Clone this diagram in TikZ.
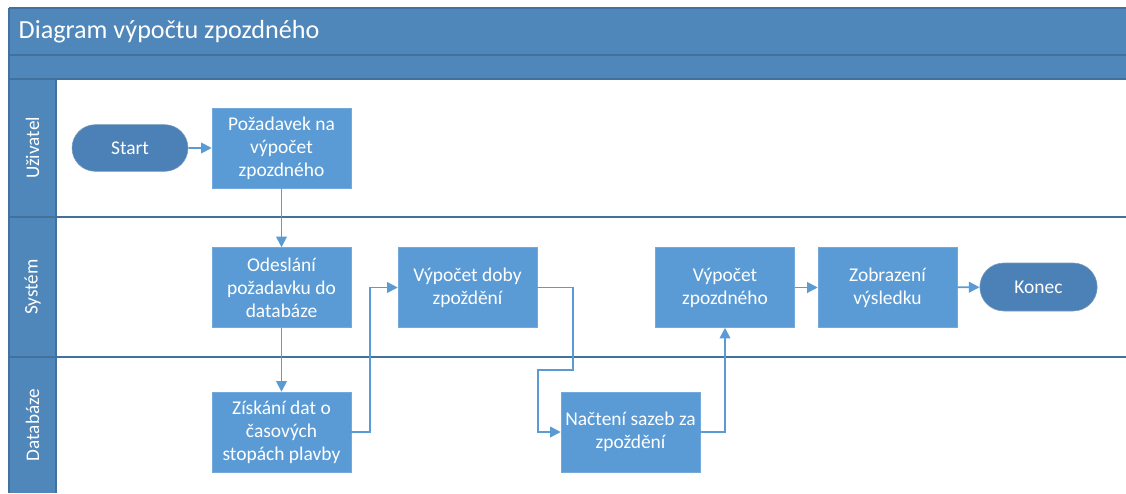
\documentclass[tikz,border=0pt]{standalone}
\usepackage{fontspec}
\setmainfont{Carlito}
\usetikzlibrary{
    arrows.meta,
    shapes.misc,
    positioning
}
\definecolor{boxblue}{HTML}{5B9BD5}
\definecolor{laneblue}{HTML}{4F87BA}
\definecolor{termblue}{HTML}{4C81B8}
\definecolor{lineblue}{HTML}{41719C}

\tikzset{
    procbox/.style={draw=boxblue!85!white, fill=boxblue, text=white, inner sep=0pt,
        minimum width=104.25pt, minimum height=60pt, align=center,
        font=\fontsize{14.6}{17.3}\selectfont},
    termbox/.style={rounded rectangle, draw=lineblue!70!white, fill=termblue, text=white,
        inner sep=0pt, minimum width=87pt, minimum height=35pt,
        font=\fontsize{14.6}{17.3}\selectfont},
    flow/.style={draw=boxblue, line width=1.4pt, -{Triangle[length=8pt,width=8pt]}},
    lanesep/.style={draw=lineblue, line width=1.3pt},
    lanetitle/.style={text=white, rotate=90, font=\fontsize{14.4}{17}\selectfont}
}

\begin{document}
\begin{tikzpicture}[x=0.75pt, y=-0.75pt]
    \useasboundingbox (0,0) rectangle (1126,493);

    % header bars and lane column
    \fill[laneblue] (9,8) rectangle (1126,79);
    \fill[laneblue] (9,79) rectangle (56,493);
    \draw[lineblue, line width=0.8pt] (9,8) -- (1126,8);
    \draw[lineblue, line width=0.8pt] (9,8) -- (9,493);
    \draw[lineblue, line width=0.8pt] (9,55) -- (1126,55);
    \draw[lineblue, line width=0.8pt] (9,79) -- (1126,79);
    \draw[lineblue, line width=0.8pt] (56,79) -- (56,493);
    \draw[lanesep] (9,217) -- (1126,217);
    \draw[lanesep] (9,357) -- (1126,357);

    \node[text=white, anchor=west, font=\fontsize{19.6}{23}\selectfont] (title) at (14,32) {Diagram výpočtu zpozdného};

    \node[lanetitle] (uzivatel) at (32.5,148) {Uživatel};
    \node[lanetitle] (system) at (32.5,287) {Systém};
    \node[lanetitle] (databaze) at (32.5,425) {Databáze};

    % steps
    \node[termbox] (start) at (130,148) {Start};
    \node[procbox] (pozadavek) at (281.5,148) {Požadavek na\\výpočet\\zpozdného};
    \node[procbox] (odeslani) at (281.5,287.5) {Odeslání\\požadavku do\\databáze};
    \node[procbox] (ziskani) at (281.5,432) {Získání dat o\\časových\\stopách plavby};
    \node[procbox] (doba) at (467.5,287.5) {Výpočet doby\\zpoždění};
    \node[procbox] (nacteni) at (630.5,432) {Načtení sazeb za\\zpoždění};
    \node[procbox] (zpozdne) at (725,287.5) {Výpočet\\zpozdného};
    \node[procbox] (zobrazeni) at (887.5,287.5) {Zobrazení\\výsledku};
    \node[termbox, minimum width=88pt, minimum height=36pt] (konec) at (1038.5,287) {Konec};

    % connectors
    \draw[flow] (start) -- (pozadavek);
    \draw[flow] (pozadavek) -- (odeslani);
    \draw[flow] (odeslani) -- (ziskani);
    \draw[flow] (ziskani.east) -- ++(19,0) |- (doba.west);
    \draw[flow] (doba.east) -| (573,370) -- (538,370) |- (nacteni.west);
    \draw[flow] (nacteni.east) -| (zpozdne.south);
    \draw[flow] (zpozdne) -- (zobrazeni);
    \draw[flow] (zobrazeni) -- (konec);
\end{tikzpicture}
\end{document}
